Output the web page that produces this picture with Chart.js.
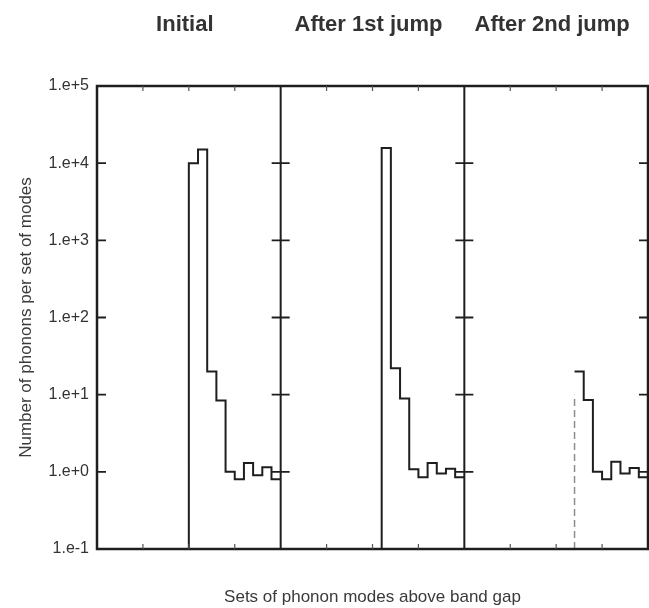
<!DOCTYPE html>
<html>
<head>
<meta charset="utf-8">
<script src="https://cdn.jsdelivr.net/npm/chart.js@4/dist/chart.umd.min.js"></script>
<style>
  html, body { margin: 0; padding: 0; background: #fff; }
  #wrap { width: 649px; height: 608px; }
</style>
</head>
<body>
<div id="wrap"><canvas id="chart"></canvas></div>
<script>
// Phonon occupation per set of modes, before and after each jump
const panelTitles = ['Initial', 'After 1st jump', 'After 2nd jump'];
const setsPerPanel = 20;
const firstSet = [10, 11, 12];
const initialCounts = [1.0e4, 1.5e4, 20, 8.4, 1.0, 0.8, 1.3, 0.9, 1.15, 0.8];
const afterFirstJumpCounts = [1.57e4, 22, 8.9, 1.08, 0.85, 1.3, 0.95, 1.1, 0.85];
const afterSecondJumpCounts = [20, 8.5, 1.0, 0.8, 1.35, 0.95, 1.12, 0.85];
const decadeTicks = [1e-1, 1e0, 1e1, 1e2, 1e3, 1e4, 1e5];
const fadedEdgeTop = 10;
const xTitle = 'Sets of phonon modes above band gap';
const yTitle = 'Number of phonons per set of modes';

const FONT = '"Liberation Sans", Arial, Helvetica, sans-serif';
const INK = '#1e1e1e';
const yMin = decadeTicks[0];
const yMax = decadeTicks[decadeTicks.length - 1];

// Histogram outline: points at each bin's right edge, drawn with 'after' steps
function stepPoints(panel, counts, fromBaseline) {
  const x0 = panel * setsPerPanel + firstSet[panel];
  const pts = [];
  if (fromBaseline) pts.push({ x: x0, y: yMin });
  pts.push({ x: x0, y: counts[0] });
  counts.forEach((v, k) => pts.push({ x: x0 + k + 1, y: v }));
  return pts;
}

function expLabel(v) {
  const e = Math.round(Math.log10(v));
  return '1.e' + (e < 0 ? '-' : '+') + Math.abs(e);
}

const seriesCounts = [initialCounts, afterFirstJumpCounts, afterSecondJumpCounts];
const datasets = seriesCounts.map((counts, p) => ({
  label: panelTitles[p],
  data: stepPoints(p, counts, p < 2),
  stepped: 'after',
  borderColor: INK,
  borderWidth: 2,
  pointRadius: 0,
  fill: false
}));
const edgeX = 2 * setsPerPanel + firstSet[2];
datasets.push({
  label: panelTitles[2] + ' edge',
  data: [{ x: edgeX, y: yMin }, { x: edgeX, y: fadedEdgeTop }],
  borderColor: '#8c8c8c',
  borderWidth: 1.5,
  borderDash: [7, 4],
  pointRadius: 0,
  fill: false
});

// Frame, panel dividers, tick marks and panel headings
const panelFrame = {
  id: 'panelFrame',
  afterDatasetsDraw(chart) {
    const { ctx, chartArea: a, scales: { x, y } } = chart;
    ctx.save();
    ctx.strokeStyle = INK;
    ctx.lineCap = 'butt';

    // outer frame
    ctx.lineWidth = 2.5;
    ctx.strokeRect(a.left, a.top, a.right - a.left, a.bottom - a.top);

    // dividers between panels
    ctx.lineWidth = 2;
    const dividers = [];
    for (let p = 1; p < panelTitles.length; p++) {
      const px = x.getPixelForValue(p * setsPerPanel);
      dividers.push(px);
      ctx.beginPath();
      ctx.moveTo(px, a.top);
      ctx.lineTo(px, a.bottom);
      ctx.stroke();
    }

    // decade ticks: inward on the outer frame, crossing the dividers
    ctx.lineWidth = 1.8;
    decadeTicks.slice(1, -1).forEach(v => {
      const py = y.getPixelForValue(v);
      ctx.beginPath();
      ctx.moveTo(a.left, py); ctx.lineTo(a.left + 9, py);
      dividers.forEach(dx => { ctx.moveTo(dx - 9, py); ctx.lineTo(dx + 9, py); });
      ctx.moveTo(a.right - 9, py); ctx.lineTo(a.right, py);
      ctx.stroke();
    });

    // small quarter ticks on top and bottom of every panel
    ctx.lineWidth = 1.2;
    ctx.strokeStyle = '#555';
    for (let p = 0; p < panelTitles.length; p++) {
      for (let q = 1; q < 4; q++) {
        const px = x.getPixelForValue(p * setsPerPanel + q * setsPerPanel / 4);
        ctx.beginPath();
        ctx.moveTo(px, a.top); ctx.lineTo(px, a.top + 5);
        ctx.moveTo(px, a.bottom); ctx.lineTo(px, a.bottom - 5);
        ctx.stroke();
      }
    }

    // panel headings
    ctx.fillStyle = '#333';
    ctx.font = 'bold 22px ' + FONT;
    ctx.textAlign = 'center';
    ctx.textBaseline = 'alphabetic';
    panelTitles.forEach((t, p) => {
      const cx = x.getPixelForValue(p * setsPerPanel + setsPerPanel / 2) - 4;
      ctx.fillText(t, cx, 31);
    });
    ctx.restore();
  }
};

new Chart(document.getElementById('chart'), {
  type: 'line',
  data: { datasets },
  options: {
    responsive: true,
    maintainAspectRatio: false,
    animation: false,
    layout: { padding: { top: 86, right: 1, left: 0, bottom: 0 } },
    plugins: { legend: { display: false }, tooltip: { enabled: false } },
    scales: {
      x: {
        type: 'linear',
        min: 0,
        max: panelTitles.length * setsPerPanel,
        grid: { display: false, drawTicks: false },
        border: { display: false },
        ticks: { display: false },
        title: {
          display: true,
          text: xTitle,
          color: '#3a3a3a',
          font: { family: FONT, size: 17 },
          padding: { top: 0, bottom: 0 }
        },
        afterFit(s) { s.height = 59; }
      },
      y: {
        type: 'logarithmic',
        min: yMin,
        max: yMax,
        grid: { display: false, drawTicks: false },
        border: { display: false },
        ticks: {
          color: '#333',
          font: { family: FONT, size: 16 },
          padding: 8,
          callback: v => expLabel(v)
        },
        afterBuildTicks(s) { s.ticks = decadeTicks.map(v => ({ value: v })); },
        title: {
          display: true,
          text: yTitle,
          color: '#3a3a3a',
          font: { family: FONT, size: 17 },
          padding: { top: 16, bottom: 0 }
        },
        afterFit(s) { s.width = 97; }
      }
    }
  },
  plugins: [panelFrame]
});
</script>
</body>
</html>
